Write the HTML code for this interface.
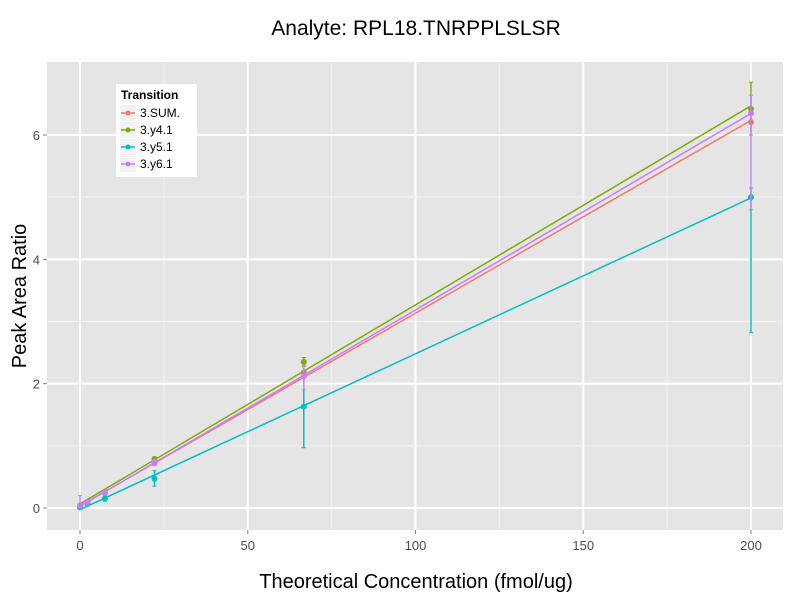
<!DOCTYPE html>
<html><head><meta charset="utf-8"><style>
body{margin:0;background:#fff;font-family:"Liberation Sans",sans-serif}
</style></head><body>
<svg id="chart" width="800" height="600" xmlns="http://www.w3.org/2000/svg">
<rect width="800" height="600" fill="#fff"/>
<rect x="47" y="62" width="736" height="468" fill="#e5e5e5"/>
<g id="grid"></g>
<g id="series"></g>
<g id="axes"></g>
<text x="416" y="35" text-anchor="middle" font-size="21" fill="#000">Analyte: RPL18.TNRPPLSLSR</text>
<text x="416" y="588" text-anchor="middle" font-size="20" fill="#000">Theoretical Concentration (fmol/ug)</text>
<text transform="translate(26,296) rotate(-90)" text-anchor="middle" font-size="20" fill="#000">Peak Area Ratio</text>
<g id="legend">
<rect x="116" y="84" width="81" height="93" fill="#fff"/>
<text x="121" y="99" font-size="12" font-weight="bold">Transition</text>
</g>
</svg>
<script>
const xs=[0,2.22,7.41,22.2,66.7,200];
const names=["3.SUM.","3.y4.1","3.y5.1","3.y6.1"];
const colors=["#f8766d","#7cae00","#00bfc4","#c77cff"];
const sumVals=[0.02,0.09,0.24,0.72,2.18,6.21];
const y4Vals=[0.03,0.10,0.26,0.79,2.35,6.42];
const y5Vals=[0.01,0.07,0.15,0.47,1.63,5.00];
const y6Vals=[0.04,0.09,0.25,0.74,2.12,6.35];
const y4Lo=[0.02,0.08,0.24,0.76,2.28,6.0];
const y4Hi=[0.04,0.12,0.28,0.82,2.42,6.85];
const y5Lo=[0.0,0.05,0.11,0.35,0.97,2.82];
const y5Hi=[0.03,0.09,0.19,0.60,2.20,5.15];
const y6Lo=[0.0,0.08,0.23,0.70,1.90,4.80];
const y6Hi=[0.20,0.11,0.27,0.78,2.30,6.64];
const xTicks=[0,50,100,150,200];
const yTicks=[0,2,4,6];
const X=v=>80+v*(751-80)/200;
const Y=v=>508-v*(508-135)/6;
const NS="http://www.w3.org/2000/svg";
function mk(p,t,a){const e=document.createElementNS(NS,t);for(const k in a)e.setAttribute(k,a[k]);p.appendChild(e);return e;}
const grid=document.getElementById('grid'),axes=document.getElementById('axes'),ser=document.getElementById('series');
xTicks.forEach((t,i)=>{
 if(i<xTicks.length-1){const m=mk(grid,'line',{x1:X((t+xTicks[i+1])/2),x2:X((t+xTicks[i+1])/2),y1:62,y2:530,stroke:'#f2f2f2','stroke-width':1});}
 const g=mk(grid,'line',{x1:X(t),x2:X(t),y1:62,y2:530,stroke:'#fff','stroke-width':2});
 
 mk(axes,'line',{x1:X(t),x2:X(t),y1:530,y2:534,stroke:'#7f7f7f'});
 const l=mk(axes,'text',{x:X(t),y:550,'text-anchor':'middle','font-size':13,fill:'#4d4d4d'});l.textContent=t;
 
});
yTicks.forEach((t,i)=>{
 if(i<yTicks.length-1){const m=mk(grid,'line',{x1:47,x2:783,y1:Y(t+1),y2:Y(t+1),stroke:'#f2f2f2','stroke-width':1});}
 const g=mk(grid,'line',{x1:47,x2:783,y1:Y(t),y2:Y(t),stroke:'#fff','stroke-width':2});
 
 mk(axes,'line',{x1:43,x2:47,y1:Y(t),y2:Y(t),stroke:'#7f7f7f'});
 const l=mk(axes,'text',{x:40,y:Y(t)+5,'text-anchor':'end','font-size':13,fill:'#4d4d4d'});l.textContent=t;
 
});
const series=[
 {v:sumVals,lo:null,hi:null},
 {v:y4Vals,lo:y4Lo,hi:y4Hi},
 {v:y5Vals,lo:y5Lo,hi:y5Hi},
 {v:y6Vals,lo:y6Lo,hi:y6Hi}];
series.forEach((s,k)=>{
 const g=mk(ser,'g',{});
 
 
 const n=xs.length;let mx=0,my=0;xs.forEach((x,i)=>{mx+=x;my+=s.v[i];});mx/=n;my/=n;
 let sxy=0,sxx=0;xs.forEach((x,i)=>{sxy+=(x-mx)*(s.v[i]-my);sxx+=(x-mx)*(x-mx);});
 const b=sxy/sxx,a=my-b*mx;
 const ln=mk(g,'line',{x1:X(0),y1:Y(a),x2:X(200),y2:Y(a+b*200),stroke:colors[k],'stroke-width':1.5});
 
 xs.forEach((x,i)=>{
  if(s.lo){const e=mk(g,'line',{x1:X(x),x2:X(x),y1:Y(s.lo[i]),y2:Y(s.hi[i]),stroke:colors[k],'stroke-width':1.5});
   
   [s.lo[i],s.hi[i]].forEach(v=>mk(g,'line',{x1:X(x)-2,x2:X(x)+2,y1:Y(v),y2:Y(v),stroke:colors[k],'stroke-width':1}));}
  const c=mk(g,'circle',{cx:X(x),cy:Y(s.v[i]),r:3,fill:colors[k]});
  
 });
});
const lg=document.getElementById('legend');
names.forEach((nm,k)=>{
 const y=113+k*17;
 const e=mk(lg,'g',{});
 
 mk(e,'rect',{x:120,y:y-8,width:16,height:16,fill:'#f2f2f2'});
 mk(e,'line',{x1:121,x2:135,y1:y,y2:y,stroke:colors[k],'stroke-width':1.5});
 mk(e,'circle',{cx:128,cy:y,r:2.5,fill:colors[k]});
 const t=mk(e,'text',{x:140,y:y+4,'font-size':12});t.textContent=nm;
});
</script>
</body></html>
